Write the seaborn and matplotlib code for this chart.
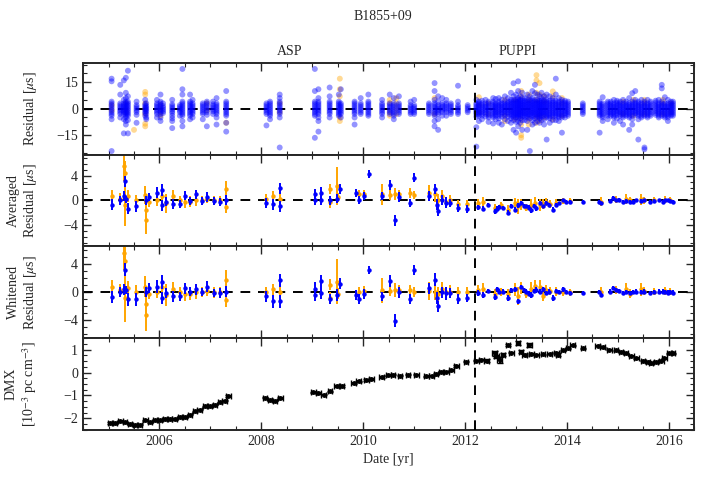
import matplotlib
matplotlib.use("Agg")
import matplotlib.pyplot as plt
import seaborn as sns
import pandas as pd
import numpy as np
from matplotlib.ticker import MultipleLocator

sns.set_style("ticks")
plt.rcParams['font.family'] = ['Liberation Serif', 'DejaVu Serif']
plt.rcParams['mathtext.fontset'] = 'stix'
plt.rcParams['font.size'] = 10
plt.rcParams['axes.linewidth'] = 1.4

BLUE = '#0000ff'
ORANGE = '#ffa500'

# ---- raw residuals (us), one list per observing epoch ----
raw_blue_year = [2005.06, 2005.23, 2005.30, 2005.34, 2005.38, 2005.55, 2005.72, 2005.74,
                 2005.95, 2006.02, 2006.07, 2006.25, 2006.40, 2006.45, 2006.60, 2006.65,
                 2006.85, 2006.93, 2007.05, 2007.12, 2007.31, 2008.10, 2008.17, 2008.36,
                 2009.05, 2009.12, 2009.34, 2009.52, 2009.56, 2009.83, 2009.95, 2010.10,
                 2010.37, 2010.52, 2010.60, 2010.70, 2010.93, 2011.00, 2011.29, 2011.40,
                 2011.47, 2011.55, 2011.63, 2011.72, 2011.86, 2012.05,
                 2012.22, 2012.27, 2012.33, 2012.40, 2012.46, 2012.55, 2012.60, 2012.66,
                 2012.72, 2012.78, 2012.84, 2012.90, 2012.95, 2013.00, 2013.04, 2013.08,
                 2013.12, 2013.17, 2013.22, 2013.27, 2013.32, 2013.37, 2013.42, 2013.46,
                 2013.50, 2013.55, 2013.60, 2013.66, 2013.72, 2013.78, 2013.84, 2013.90,
                 2013.96, 2014.02, 2014.31, 2014.64, 2014.70, 2014.80, 2014.86, 2014.92,
                 2014.98, 2015.04, 2015.10, 2015.16, 2015.22, 2015.28, 2015.34, 2015.40,
                 2015.46, 2015.52, 2015.58, 2015.64, 2015.74, 2015.80, 2015.86, 2015.92,
                 2015.98, 2016.04, 2016.08]
raw_blue_res = [
    [17, 15.5, 4, 3, 2, 1, 0, -1, -2, -3, -4, -6, -24],
    [13.5, 8, 3, 2, 1, 0, -1, -2, -3, -5],
    [16, 5, 3, 2, 1, 0, -1, -2, -3, -6, -14],
    [17.5, 9, 6, 4, 3, 2, 1, 0, -1, -2, -3, -4, -5, -7, -9],
    [21.5, 7, 4, 3, 2, 1, 0, -1, -2, -3, -4, -6.5, -14],
    [4, 2, 1, 0, -1, -2, -3.5, -8],
    [5, 2.5, 1.5, 0.5, -0.5, -1.5, -2.5, -4],
    [3, 1.5, 0.5, -0.5, -1.5, -3, -5, -6],
    [5, 3, 2, 1, 0, -1, -2, -3, -5],
    [8, 4, 3, 2, 1, 0, -1, -2, -3, -5, -7],
    [3, 1.5, 0.5, -0.5, -1.5, -2.5],
    [5, 2.5, 1.5, 0.5, -0.5, -1.5, -2.5, -4, -5.5, -7, -11],
    [2, 1, 0, -1, -2, -4],
    [22.5, 11, 8, 4, 3, 2, 1, 0, -1, -2, -3, -4, -7, -10],
    [8, 4, 3, 2, 1, 0, -1, -2, -3, -4, -6],
    [5, 3, 2, 1, 0, -1, -2, -3, -5],
    [3, 2, 1, 0, -1, -2, -3, -6],
    [4, 3, 2, 1, 0, -1, -2, -3.5, -10],
    [4, 2.5, 1.5, 0.5, -0.5, -1.5, -3],
    [6, 3, 2, 1, 0, -1, -2, -3, -5, -9],
    [10, 4, 3, 2, 1, 0, -1, -2, -3, -4, -8, -13],
    [3, 2, 1, 0, -1, -2, -3, -9.5],
    [4, 3, 2, 1, 0, -1, -2, -3, -4, -6],
    [8, 6, 4, 3, 2, 1, 0, -1, -2, -3, -5, -22],
    [22.5, 10, 4, 3, 2, 1, 0, -1, -2, -3, -4, -16.5],
    [11, 6, 4, 3, 2, 1, 0, -1, -2, -3, -5, -7, -13],
    [12, 7, 4, 3, 2, 1, 0, -1, -2, -3, -5],
    [8, 4, 3, 2, 1, 0, -1, -2, -3, -4],
    [11, 3, 2, 1, 0, -1, -2, -3, -5],
    [4, 3, 2, 1, 0, -1, -2, -3, -5, -9],
    [6, 3, 2, 1, 0, -1, -2, -3],
    [8, 4, 3, 2, 1, 0, -1, -2, -3, -4],
    [5, 3, 2, 1, 0, -1, -2, -3, -5],
    [8, 3, 2, 1, 0, -1, -2, -3],
    [6, 3, 2, 1, 0, -1, -2, -3, -4, -6],
    [7, 3, 2, 1, 0, -1, -2, -3],
    [4, 2, 1, 0, -1, -2, -3],
    [5, 2, 1, 0, -1, -2, -3],
    [3, 2, 1, 0, -1, -2, -3],
    [14.5, 10, 5, 3, 2, 1, 0, -1, -2, -3, -4, -7, -10],
    [7, 4, 2, 1, 0, -1, -2, -3, -6, -12],
    [6, 3, 2, 1, 0, -1, -2, -4],
    [5, 3, 2, 1, 0, -1, -2, -4],
    [3, 2, 1, 0, -1, -2, -3],
    [13, 4, 2, 1, 0, -1, -2, -3],
    [2, 1, 0, -1, -2],
    [5, 3, 2, 1, 0, -1, -2, -3, -4.5, -10.5, -21.5],
    [4, 3, 2, 1, 0, -1, -2, -3, -4, -7],
    [4.5, 3, 2, 1, 0, -1, -2, -3, -4, -6],
    [5, 3, 2, 1, 0, -1, -2, -3, -4.5],
    [4, 3, 2, 1, 0, -1, -2, -3, -4, -5, -7.5],
    [6, 4, 3, 2, 1, 0, -1, -2, -3, -4, -5, -8.4],
    [5.5, 3, 2, 1, 0, -1, -2, -3, -4, -6],
    [6, 4, 3, 2, 1, 0, -1, -2, -3, -4, -5.5, -8],
    [5, 3, 2, 1, 0, -1, -2, -3, -4.5, -9],
    [7, 4, 3, 2, 1, 0, -1, -2, -3, -4, -6],
    [6, 4, 3, 2, 1, 0, -1, -2, -3, -4.5, -7],
    [9, 5, 4, 3, 2, 1, 0, -1, -2, -3, -4, -5.5, -8],
    [14.4, 7, 5, 4, 3, 2, 1, 0, -1, -2, -3, -4, -5, -6.5, -12],
    [8, 5, 4, 3, 2, 1, 0, -1, -2, -3, -4, -5, -7.5, -13.6],
    [15.5, 10, 6, 5, 4, 3, 2, 1, 0, -1, -2, -3, -4, -5, -7, -10],
    [7, 5, 4, 3, 2, 1, 0, -1, -2, -3, -4, -5.5, -8],
    [9, 6, 4.5, 3.5, 2.5, 1.5, 0.5, -0.5, -1.5, -2.5, -3.5, -4.5, -6.5, -12],
    [6, 4.5, 3.5, 2.5, 1.5, 0.5, -0.5, -1.5, -2.5, -3.5, -4.5, -6.5],
    [8, 5, 4, 3, 2, 1, 0, -1, -2, -3, -4, -5, -7, -12],
    [7, 5, 4, 3, 2, 1, 0, -1, -2, -3, -4, -5.5, -24],
    [10, 6, 4.5, 3.5, 2.5, 1.5, 0.5, -0.5, -1.5, -2.5, -3.5, -4.5, -6.5, -9],
    [13.5, 8.8, 5, 4, 3, 2, 1, 0, -1, -2, -3, -4, -5.5, -8],
    [8, 5, 4, 3, 2, 1, 0, -1, -2, -3, -4, -5, -7],
    [7, 4.5, 3.5, 2.5, 1.5, 0.5, -0.5, -1.5, -2.5, -3.5, -4.5, -5.5, -8],
    [9, 6, 4.5, 3.5, 2.5, 1.5, 0.5, -0.5, -1.5, -2.5, -3.5, -4.5, -6.5],
    [7, 5, 4, 3, 2, 1, 0, -1, -2, -3, -4, -6, -9],
    [8, 5, 4, 3, 2, 1, 0, -1, -2, -3, -4, -5, -17.5],
    [7, 4.5, 3.5, 2.5, 1.5, 0.5, -0.5, -1.5, -2.5, -3.5, -4.5, -5.5, -8],
    [6, 4.5, 3.5, 2.5, 1.5, 0.5, -0.5, -1.5, -2.5, -3.5, -4.5, -6.5],
    [17, 8, 4.5, 3.5, 2.5, 1.5, 0.5, -0.5, -1.5, -2.5, -3.5, -4.5, -6.5],
    [6, 4, 3, 2, 1, 0, -1, -2, -3, -4, -5, -7],
    [5, 4, 3, 2, 1, 0, -1, -2, -3, -4, -5, -13.6],
    [4.5, 3.5, 2.5, 1.5, 0.5, -0.5, -1.5, -2.5, -3.5, -5],
    [4, 3, 2, 1, 0, -1, -2, -3, -4],
    [3, 2, 1, 0, -1, -2, -3],
    [4, 3, 2, 1, 0, -1, -2, -3, -4, -13.6],
    [6.5, 3, 2, 1, 0, -1, -2, -3, -4, -5, -7],
    [4, 3, 2, 1, 0, -1, -2, -3, -4, -6],
    [4, 3, 2, 1, 0, -1, -2, -3, -4],
    [5, 3, 2, 1, 0, -1, -2, -3, -4, -5, -8],
    [4.5, 3.5, 2.5, 1.5, 0.5, -0.5, -1.5, -2.5, -3.5, -5.5],
    [4, 3, 2, 1, 0, -1, -2, -3, -4, -7],
    [5, 3, 2, 1, 0, -1, -2, -3, -4, -5, -9],
    [4, 3, 2, 1, 0, -1, -2, -3, -4],
    [6, 3, 2, 1, 0, -1, -2, -3, -4, -5, -12],
    [8.8, 4, 3, 2, 1, 0, -1, -2, -3, -4, -6, -9],
    [10, 5, 3.5, 2.5, 1.5, 0.5, -0.5, -1.5, -2.5, -3.5],
    [4, 3, 2, 1, 0, -1, -2, -3, -4, -6, -17.5],
    [5, 3, 2, 1, 0, -1, -2, -3, -4, -5],
    [4, 3, 2, 1, 0, -1, -2, -3, -4, -22, -23],
    [5, 3, 2, 1, 0, -1, -2, -3, -4, -5],
    [4, 3, 2, 1, 0, -1, -2, -3, -4],
    [4.5, 3.5, 2.5, 1.5, 0.5, -0.5, -1.5, -2.5, -3.5],
    [5, 3, 2, 1, 0, -1, -2, -3, -4, -5],
    [13.5, 11.5, 4, 3, 2, 1, 0, -1, -2, -3, -4],
    [6.5, 3, 2, 1, 0, -1, -2, -3, -4, -5],
    [5, 3, 2, 1, 0, -1, -2, -3, -4, -5, -7],
    [4, 3, 2, 1, 0, -1, -2, -3, -4],
    [4, 3, 2, 1, 0, -1, -2, -3, -4],
]
raw_orange_year = [2005.06, 2005.34, 2005.50, 2005.72, 2006.02, 2006.93, 2007.31, 2008.36,
                   2009.54, 2010.52, 2010.65, 2011.40, 2012.27, 2012.45, 2012.78, 2012.98,
                   2013.10, 2013.25, 2013.40, 2013.46, 2013.55, 2013.72, 2013.90, 2015.10,
                   2015.30, 2015.52, 2015.88, 2016.04]
raw_orange_res = [
    [2, -1], [3, 0, -2], [-12], [9.5, 8, 3, 0, -3, -8.5, -10], [2, 0, -2, -4],
    [3, -1], [-8], [3, -2], [17, 11, 7, -5, -7], [5, 3, -2, -4], [6, 3, 0, -3],
    [6, -3], [6.5, 2, -2], [3, -3], [5, -4, -7], [5, -6],
    [10, 7, -6, -9, -15, -16.5], [8, 5, -6, -9], [19, 16, 9, 5, -5, -8],
    [14.5, 8, -4, -7], [7, 4, -5], [9.8, 7, -6], [6, 3, -4], [4, -3],
    [5, -4], [5, 3, -3], [5, 3, -3], [3, -2],
]

# ---- epoch-averaged and whitened residuals (us) ----
blue_year = [2005.06, 2005.22, 2005.30, 2005.32, 2005.34, 2005.38, 2005.53, 2005.73, 2005.79,
             2005.95, 2006.04, 2006.05, 2006.12, 2006.26, 2006.40, 2006.51, 2006.60, 2006.72,
             2006.83, 2006.93, 2007.07, 2007.18, 2007.30, 2008.10, 2008.23, 2008.36, 2008.37,
             2009.05, 2009.06, 2009.17, 2009.18, 2009.34, 2009.49, 2009.54, 2009.85, 2009.91,
             2010.02, 2010.11, 2010.36, 2010.52, 2010.62, 2010.71, 2010.91, 2010.99, 2011.30,
             2011.40, 2011.45, 2011.47, 2011.54, 2011.63, 2011.71, 2011.86, 2012.04,
             2012.25, 2012.35, 2012.45, 2012.58, 2012.62, 2012.66, 2012.74, 2012.84, 2012.91,
             2012.97, 2013.04, 2013.10, 2013.15, 2013.20, 2013.25, 2013.30, 2013.35, 2013.40,
             2013.46, 2013.53, 2013.59, 2013.65, 2013.72, 2013.79, 2013.85, 2013.92, 2013.98,
             2014.05, 2014.31, 2014.63, 2014.67, 2014.84, 2014.90, 2014.96, 2015.02, 2015.09,
             2015.16, 2015.23, 2015.30, 2015.36, 2015.45, 2015.52, 2015.62, 2015.70, 2015.80,
             2015.88, 2015.93, 2015.98, 2016.03, 2016.08]
blue_avg = [-0.7, 0.0, 0.7, 3.2, 0.2, -1.4, -1.0, 0.0, 0.6,
            1.3, 1.8, -0.8, -0.2, -0.6, -0.6, 0.8, -0.1, 1.0,
            -0.1, 0.6, -0.1, -0.3, 0.1, -0.4, -0.6, 2.0, -1.0,
            1.0, 0.0, 1.3, 0.1, 0.0, 0.3, 1.9, 1.2, 0.1,
            0.7, 4.4, 0.7, 2.6, -3.3, 0.55, -0.4, 3.8, 0.7,
            1.9, -0.7, -1.8, 0.1, -0.4, -0.4, -1.25, -1.4,
            -1.1, -1.4, -0.7, -1.8, -1.4, -1.1, -1.3, -2.0, -0.9,
            -1.5, -0.8, -0.4, -0.9, -1.0, -1.2, -1.6, -0.9, -1.3,
            -0.4, -1.0, -0.4, -0.8, -1.5, -0.7, -0.5, 0.0, -0.2,
            -0.2, -0.2, -0.2, -0.5, -0.1, 0.4, 0.0, 0.1, -0.2,
            -0.1, -0.3, -0.2, 0.0, -0.1, 0.0, -0.2, -0.1, 0.0,
            -0.2, 0.0, 0.0, -0.1, -0.2]
blue_wht = [-0.7, 0.0, 0.4, 3.2, 0.3, -1.0, -1.0, 0.0, 0.55,
            0.8, 1.5, -0.8, -0.1, -0.6, -0.6, 0.55, 0.1, 0.4,
            0.0, 0.8, -0.1, -0.1, 0.1, -0.6, -1.3, 1.7, -1.3,
            0.5, -0.4, 1.6, -0.1, -1.0, -0.4, 1.2, -0.4, -1.0,
            -0.3, 3.2, -0.6, 1.6, -4.05, 0.0, -1.0, 3.2, 0.55,
            1.8, -0.8, -2.0, 0.0, -0.14, -0.14, -1.0, -0.8,
            -0.1, -0.4, 0.2, -0.7, 0.4, 0.1, 0.1, -0.8, 0.3,
            0.4, -1.3, 0.8, 0.3, 0.1, -0.2, -0.4, 0.2, 0.3,
            0.1, 0.4, -0.1, 0.1, -0.8, 0.2, 0.0, 0.4, 0.0,
            -0.1, -0.1, 0.0, -0.4, 0.1, 0.6, 0.3, 0.2, -0.1,
            0.0, -0.1, 0.0, 0.1, 0.0, 0.1, -0.1, 0.0, 0.1,
            0.1, 0.0, -0.05, 0.0, -0.05]
blue_err = [0.9, 0.7, 0.8, 0.9, 0.6, 0.9, 0.9, 0.7, 0.7,
            0.9, 1.0, 0.9, 0.7, 0.8, 0.7, 0.8, 0.6, 0.8,
            0.6, 0.8, 0.6, 0.7, 0.8, 0.8, 0.9, 0.9, 0.9,
            0.9, 0.8, 0.9, 0.8, 0.7, 0.8, 0.8, 0.7, 0.7,
            0.7, 0.6, 0.7, 0.8, 0.9, 0.8, 0.7, 0.7, 0.8,
            0.9, 0.9, 0.8, 0.8, 0.9, 0.7, 0.7, 0.6,
            0.4, 0.4, 0.3, 0.4, 0.4, 0.3, 0.3, 0.4, 0.3,
            0.4, 0.4, 0.3, 0.3, 0.3, 0.4, 0.4, 0.3, 0.4,
            0.3, 0.3, 0.3, 0.3, 0.4, 0.3, 0.3, 0.3, 0.3,
            0.3, 0.3, 0.3, 0.3, 0.3, 0.3, 0.3, 0.3, 0.3,
            0.3, 0.3, 0.3, 0.3, 0.3, 0.3, 0.3, 0.3, 0.3,
            0.3, 0.3, 0.3, 0.3, 0.3]

orange_year = [2005.06, 2005.22, 2005.31, 2005.32, 2005.33, 2005.38, 2005.53, 2005.72, 2005.73,
               2005.74, 2005.79, 2005.95, 2006.04, 2006.12, 2006.26, 2006.40, 2006.51, 2006.60,
               2006.72, 2006.83, 2006.93, 2007.07, 2007.18, 2007.30, 2007.31, 2008.10, 2008.23,
               2008.36, 2009.34, 2009.35, 2009.49, 2009.50, 2009.91, 2010.02, 2010.36, 2010.52,
               2010.62, 2010.71, 2010.91, 2010.99, 2011.30, 2011.40, 2011.47, 2011.54, 2011.63,
               2011.71, 2011.86, 2012.04,
               2012.25, 2012.35, 2012.58, 2012.70, 2012.84, 2012.97, 2013.03, 2013.10, 2013.20,
               2013.30, 2013.38, 2013.46, 2013.53, 2013.59, 2013.66, 2013.79, 2013.92, 2014.05,
               2014.67, 2014.96, 2015.16, 2015.23, 2015.45, 2015.52, 2015.70, 2015.93, 2016.03]
orange_avg = [0.8, 0.3, 5.7, 4.5, -0.8, 0.8, 0.0, 0.9, -1.6,
              -3.3, -0.3, 0.0, 0.8, -0.5, 0.7, 0.0, -0.3, -0.2,
              0.0, 0.0, 0.3, 0.0, 0.0, 1.9, -1.1, 0.2, 0.8,
              0.2, 1.9, -0.3, 2.4, 0.5, 1.1, 1.0, 1.0, 0.9,
              1.1, 1.0, 1.2, 0.9, 1.2, 1.0, 0.0, 0.8, -0.2,
              0.0, -0.6, -0.6,
              -0.5, -0.3, -1.2, -0.8, -1.5, -0.5, -1.0, -0.6, -1.2,
              -0.8, -0.4, -0.8, -0.6, -0.3, -0.6, -0.4, -0.1, -0.1,
              -0.2, 0.1, 0.2, 0.0, 0.2, 0.0, 0.0, 0.1, 0.0]
orange_wht = [0.8, 0.3, 5.6, 4.4, -0.8, 0.6, 0.1, 0.8, -1.7,
              -3.3, -0.2, 0.1, 0.8, -0.4, 0.5, 0.0, -0.2, -0.2,
              0.0, 0.0, 0.2, 0.0, 0.0, 1.7, -1.1, 0.0, 0.4,
              0.0, 1.1, -0.8, 1.5, -0.2, 0.1, 0.2, 0.3, 0.2,
              0.3, 0.3, 0.3, 0.0, 0.2, 0.1, -0.2, 0.4, 0.0,
              0.1, 0.0, 0.1,
              0.3, 0.5, -0.2, 0.0, -0.3, 0.4, -0.5, 0.6, -0.2,
              0.5, 0.9, 0.7, -0.5, 0.3, 0.2, 0.1, 0.0, 0.0,
              0.0, 0.3, 0.5, -0.2, 0.4, 0.2, 0.1, 0.2, 0.1]
orange_err = [1.0, 0.9, 2.5, 2.0, 3.4, 1.0, 0.9, 1.5, 1.5,
              2.3, 0.8, 0.9, 1.2, 1.6, 1.0, 0.8, 1.0, 0.9,
              0.9, 0.7, 0.8, 0.8, 0.8, 1.4, 1.0, 0.8, 0.8,
              1.2, 0.8, 0.9, 3.2, 0.8, 0.7, 0.7, 1.8, 0.8,
              1.0, 0.7, 0.8, 0.7, 1.3, 1.2, 1.0, 1.0, 0.8,
              0.9, 0.7, 0.7,
              0.7, 0.8, 0.6, 0.6, 0.7, 0.9, 1.3, 0.9, 0.6,
              1.0, 0.9, 1.0, 0.8, 0.7, 0.6, 0.6, 0.5, 0.5,
              0.7, 0.6, 0.8, 0.6, 0.9, 0.6, 0.5, 0.6, 0.5]

# ---- DMX (1e-3 pc cm^-3) ----
dmx_year = [2005.03, 2005.13, 2005.23, 2005.32, 2005.42, 2005.52, 2005.62, 2005.72, 2005.81,
            2005.91, 2006.01, 2006.11, 2006.21, 2006.30, 2006.40, 2006.50, 2006.60, 2006.70,
            2006.79, 2006.89, 2006.99, 2007.09, 2007.19, 2007.28, 2007.35, 2008.07, 2008.17,
            2008.27, 2008.37, 2009.02, 2009.12, 2009.22, 2009.35, 2009.48, 2009.58, 2009.81,
            2009.91, 2010.06, 2010.16, 2010.36, 2010.49, 2010.58, 2010.72, 2010.88, 2011.04,
            2011.24, 2011.34, 2011.43, 2011.53, 2011.63, 2011.73, 2011.83, 2012.02, 2012.22,
            2012.32, 2012.42, 2012.58, 2012.61, 2012.68, 2012.74, 2012.84, 2012.91, 2013.04,
            2013.10, 2013.17, 2013.26, 2013.30, 2013.40, 2013.53, 2013.66, 2013.79, 2013.82,
            2013.92, 2014.02, 2014.11, 2014.31, 2014.60, 2014.70, 2014.83, 2014.96, 2015.06,
            2015.16, 2015.26, 2015.36, 2015.49, 2015.59, 2015.65, 2015.75, 2015.85, 2015.91,
            2016.01, 2016.08]
dmx_val = [-2.20, -2.20, -2.13, -2.17, -2.25, -2.27, -2.27, -2.09, -2.17,
           -2.09, -2.09, -2.03, -2.03, -2.03, -1.94, -1.94, -1.84, -1.69,
           -1.62, -1.48, -1.48, -1.40, -1.30, -1.23, -1.04, -1.09, -1.19,
           -1.22, -1.11, -0.87, -0.90, -0.97, -0.82, -0.58, -0.58, -0.47,
           -0.39, -0.32, -0.29, -0.20, -0.13, -0.10, -0.14, -0.10, -0.10,
           -0.17, -0.14, -0.06, 0.04, 0.04, 0.09, 0.29, 0.48, 0.52,
           0.55, 0.52, 0.84, 0.70, 0.55, 0.77, 1.20, 0.87, 1.30,
           0.91, 0.77, 1.20, 0.81, 0.77, 0.79, 0.81, 0.87, 0.77,
           0.96, 1.06, 1.18, 1.06, 1.16, 1.10, 0.99, 0.96, 0.91,
           0.84, 0.72, 0.62, 0.52, 0.48, 0.41, 0.48, 0.52, 0.62,
           0.84, 0.84]
dmx_err = [0.03, 0.03, 0.03, 0.03, 0.03, 0.03, 0.03, 0.03, 0.03,
           0.03, 0.03, 0.03, 0.03, 0.03, 0.03, 0.03, 0.03, 0.03,
           0.03, 0.03, 0.03, 0.03, 0.03, 0.03, 0.04, 0.03, 0.03,
           0.03, 0.03, 0.03, 0.03, 0.03, 0.03, 0.03, 0.03, 0.03,
           0.03, 0.03, 0.03, 0.06, 0.03, 0.03, 0.03, 0.03, 0.03,
           0.03, 0.03, 0.03, 0.03, 0.03, 0.03, 0.03, 0.03, 0.02,
           0.02, 0.08, 0.10, 0.06, 0.12, 0.06, 0.06, 0.04, 0.08,
           0.05, 0.04, 0.08, 0.03, 0.02, 0.02, 0.02, 0.02, 0.07,
           0.02, 0.02, 0.02, 0.02, 0.02, 0.02, 0.02, 0.02, 0.02,
           0.02, 0.02, 0.02, 0.02, 0.02, 0.02, 0.02, 0.02, 0.02,
           0.02, 0.02]

backend_change = 2012.2

# long-form table for the raw residuals (orange first so blue sits on top)
rows = []
for yr, vals in zip(raw_orange_year, raw_orange_res):
    rows += [(yr, v, '430') for v in vals]
for yr, vals in zip(raw_blue_year, raw_blue_res):
    rows += [(yr, v, 'L') for v in vals]
raw = pd.DataFrame(rows, columns=['year', 'res', 'rcvr'])

fig = plt.figure(figsize=(7.1, 4.83), dpi=100)
gs = fig.add_gridspec(4, 1, left=0.117, right=0.978, top=0.870, bottom=0.110, hspace=0)
axes = [fig.add_subplot(gs[i]) for i in range(4)]
for ax in axes[1:]:
    ax.sharex(axes[0])

ax = axes[0]
sns.scatterplot(data=raw, x='year', y='res', hue='rcvr', palette={'430': ORANGE, 'L': BLUE},
                s=18, alpha=0.42, edgecolor='none', legend=False, ax=ax, zorder=2)
ax.set_ylim(-26, 26)
ax.yaxis.set_major_locator(MultipleLocator(15))
ax.yaxis.set_minor_locator(MultipleLocator(5))
ax.set_ylabel(r'Residual [$\mu$s]')

for ax, key, lim in [(axes[1], 'avg', 7.6), (axes[2], 'wht', 6.55)]:
    oy = orange_avg if key == 'avg' else orange_wht
    by = blue_avg if key == 'avg' else blue_wht
    ax.errorbar(orange_year, oy, yerr=orange_err, fmt='o', color=ORANGE, ms=3.2,
                mew=0, elinewidth=1.4, capsize=0, zorder=2)
    ax.errorbar(blue_year, by, yerr=blue_err, fmt='o', color=BLUE, ms=3.2,
                mew=0, elinewidth=1.4, capsize=0, zorder=3)
    ax.set_ylim(-lim, lim)
    ax.yaxis.set_major_locator(MultipleLocator(4))
    ax.yaxis.set_minor_locator(MultipleLocator(1))
axes[1].set_ylabel('Averaged\n' + r'Residual [$\mu$s]')
axes[2].set_ylabel('Whitened\n' + r'Residual [$\mu$s]')

ax = axes[3]
ax.errorbar(dmx_year, dmx_val, yerr=dmx_err, xerr=0.045, fmt='o', color='black', ms=2.5,
            elinewidth=1.4, capsize=2.2, capthick=1.0, zorder=3)
ax.set_ylim(-2.5, 1.5)
ax.yaxis.set_major_locator(MultipleLocator(1))
ax.yaxis.set_minor_locator(MultipleLocator(0.25))
ax.set_ylabel('DMX\n' + r'[10$^{-3}$ pc cm$^{-3}$]')
ax.set_xlabel('Date [yr]')

for i, ax in enumerate(axes):
    if i < 3:
        ax.axhline(0, color='black', ls=(0, (5, 4)), lw=1.4, zorder=1)
    ax.axvline(backend_change, color='black', ls=(0, (5, 4)), lw=1.4, zorder=4)
    ax.set_xlim(2004.5, 2016.5)
    ax.xaxis.set_major_locator(MultipleLocator(2))
    ax.xaxis.set_minor_locator(MultipleLocator(0.5))
    ax.tick_params(which='both', direction='in', top=True, right=True, labelsize=10)
    ax.tick_params(which='major', length=6, width=1.0)
    ax.tick_params(which='minor', length=3, width=0.8)
    ax.yaxis.set_label_coords(-0.072, 0.5)
    if i < 3:
        ax.tick_params(labelbottom=False)
        ax.set_xlabel('')
    for sp in ax.spines.values():
        sp.set_linewidth(1.4)

axes[0].text(2008.56, 1.12, 'ASP', transform=axes[0].get_xaxis_transform(),
             ha='center', va='center', fontsize=10)
axes[0].text(2013.03, 1.12, 'PUPPI', transform=axes[0].get_xaxis_transform(),
             ha='center', va='center', fontsize=10)
fig.text(0.54, 0.965, 'B1855+09', ha='center', va='center', fontsize=10)

fig.savefig('out.png', dpi=100)
